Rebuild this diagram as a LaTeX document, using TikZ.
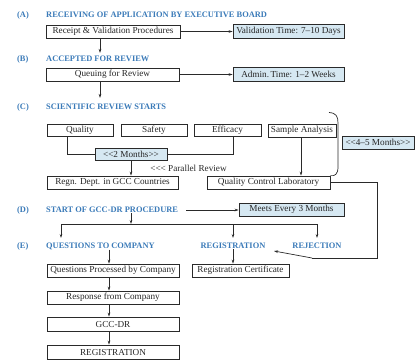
\documentclass[tikz,border=0pt]{standalone}
\usepackage{fontspec}
\setmainfont{Liberation Serif}
\usetikzlibrary{arrows.meta,calc}
\definecolor{headblue}{HTML}{3A7AB8}
\definecolor{boxfill}{HTML}{D6E8F2}
\definecolor{lineg}{HTML}{2A2A2A}
\begin{document}
\begin{tikzpicture}[x=1pt,y=-1pt,
  box/.style={draw=lineg,line width=0.8pt,inner sep=0pt,minimum height=13pt,font=\fontsize{9.2}{10}\selectfont,text=black!85},
  tbox/.style={box,fill=boxfill},
  head/.style={font=\fontsize{8.4}{10}\selectfont\bfseries,text=headblue,inner sep=0pt},
  arr/.style={draw=lineg,line width=0.7pt,-{Stealth[length=4pt,width=2.6pt]}},
  ln/.style={draw=lineg,line width=0.7pt}]
\useasboundingbox (0,0) rectangle (416,360);
% letters
\node[head,anchor=west] (lA) at (17,15) {(A)};
\node[head,anchor=west] (lB) at (17,59) {(B)};
\node[head,anchor=west] (lC) at (17,107) {(C)};
\node[head,anchor=west] (lD) at (17,210) {(D)};
\node[head,anchor=west] (lE) at (17,246) {(E)};
% headings
\node[head,anchor=west] (hA) at (46,15) {RECEIVING OF APPLICATION BY EXECUTIVE BOARD};
\node[head,anchor=west] (hB) at (46,59) {ACCEPTED FOR REVIEW};
\node[head,anchor=west] (hC) at (46,107) {SCIENTIFIC REVIEW STARTS};
\node[head,anchor=west] (hD) at (46,210) {START OF GCC-DR PROCEDURE};
\node[head,anchor=west] (hE) at (46,246) {QUESTIONS TO COMPANY};
\node[head] (hReg) at (233,246) {REGISTRATION};
\node[head] (hRej) at (317,246) {REJECTION};
% boxes
\node[box,minimum width=134pt] (rec) at (113,31.5) {Receipt \& Validation Procedures};
\node[tbox,minimum width=111pt,minimum height=14pt] (val) at (288.5,31.5) {Validation Time: 7–10 Days};
\node[box,minimum width=133pt] (que) at (112.5,74.5) {Queuing for Review};
\node[tbox,minimum width=111pt,minimum height=14pt] (adm) at (288.5,74.5) {Admin.\,Time: 1–2 Weeks};
\node[box,minimum width=66pt,minimum height=12pt] (qual) at (80,130) {Quality};
\node[box,minimum width=66pt,minimum height=12pt] (saf) at (154,130) {Safety};
\node[box,minimum width=67pt,minimum height=12pt] (eff) at (227.5,130) {Efficacy};
\node[box,minimum width=68pt] (samp) at (302,130.5) {Sample Analysis};
\node[tbox,minimum width=72pt,minimum height=12pt] (two) at (131,154) {<{}<2 Months>{}>};
\node[box,minimum width=131pt] (regn) at (112.5,182.5) {Regn. Dept. in GCC Countries};
\node[box,minimum width=123pt] (qcl) at (268.5,182.5) {Quality Control Laboratory};
\node[tbox,minimum width=72pt] (four) at (378,142.5) {<{}<4–5 Months>{}>};
\node[font=\fontsize{9.2}{10}\selectfont,inner sep=0pt,text=black!85] (par) at (188.5,168) {<{}<{}< Parallel Review};
\node[tbox,minimum width=105pt] (meets) at (291.5,209.5) {Meets Every 3 Months};
\node[box,minimum width=132pt] (qpc) at (113,270.5) {Questions Processed by Company};
\node[box,minimum width=132pt] (resp) at (113,297.5) {Response from Company};
\node[box,minimum width=132pt,minimum height=14pt] (gcc) at (113,324) {GCC-DR};
\node[box,minimum width=132pt,minimum height=14pt] (reg) at (113,352) {REGISTRATION};
\node[box,minimum width=97pt] (cert) at (240.5,270.5) {Registration Certificate};
% helper coordinates
\coordinate (xa) at (100,0);
\coordinate (xb) at (131,0);
\coordinate (xq) at (67,0);
\coordinate (xe) at (233,0);
\coordinate (xs) at (301,0);
\coordinate (xl) at (61,0);
\coordinate (xr) at (317,0);
\coordinate (xc) at (109,0);
\coordinate (bar) at (0,224);
\coordinate (bt) at (0,238);
\coordinate (qr) at (377,258);
\coordinate (qk) at (312,258);
\coordinate (qt) at (274,251);
\coordinate (br) at (329,112.5);
% connectors
\draw[arr] (rec.south -| xa) -- ($(hB.north -| xa)+(0,-3)$);
\draw[arr] (rec.east) -- (rec.east -| val.west);
\draw[arr] (que.south -| xa) -- ($(hC.north -| xa)+(0,-6)$);
\draw[arr] (que.east) -- (que.east -| adm.west);
\draw[ln] (qual.south -| xq) |- (two.west);
\draw[ln] (two.east) -| (eff.south -| xe);
\draw[arr] (two.south) -- (regn.north -| two.south);
\draw[arr] (samp.south -| xs) -- (qcl.north -| xs);
\draw[ln] (br) .. controls (336,113) and (338,116) .. (338,123) -- (338,167) .. controls (338,174) and (335,176.5) .. (qcl.north east);
\draw[ln] (qcl.east) -| (qr) -- (qk);
\draw[arr] (qk) -- (qt);
\draw[arr] ($(hD.east)+(8,0)$) -- (hD.east -| meets.west);
\draw[arr] (hD.south -| xb) -- (bar -| xb);
\draw[ln] (bar -| xl) -- (bar -| xr);
\draw[arr] (bar -| xl) -- (bt -| xl);
\draw[arr] (bar -| xe) -- (bt -| xe);
\draw[arr] (bar -| xr) -- (bt -| xr);
\draw[arr] (hE.south -| xc) -- (qpc.north -| xc);
\draw[arr] (qpc.south -| xc) -- (resp.north -| xc);
\draw[arr] (resp.south -| xc) -- (gcc.north -| xc);
\draw[arr] (gcc.south -| xc) -- (reg.north -| xc);
\draw[arr] (hReg.south -| xe) -- (cert.north -| xe);
\end{tikzpicture}
\end{document}
